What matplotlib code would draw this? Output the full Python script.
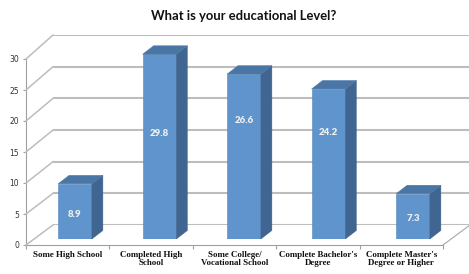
import matplotlib
matplotlib.use("Agg")
import matplotlib.pyplot as plt
from matplotlib.patches import Polygon
from matplotlib.lines import Line2D
from matplotlib.transforms import IdentityTransform
import numpy as np

# ------------------------------------------------------------
# datos
# ------------------------------------------------------------
categorias = ["Some High School", "Completed High\nSchool", "Some College/\nVocational School",
              "Complete Bachelor's\nDegree", "Complete Master's\nDegree or Higher"]
valores = [8.9, 29.8, 26.6, 24.2, 7.3]
ticks_y = [0, 5, 10, 15, 20, 25, 30]
titulo = "What is your educational Level?"

# colores estilo Excel 3D
c_frente = "#5F94CC"
c_lado = "#3F6590"
c_arriba = "#4A76A6"
c_grid = "#BDBDBD"

W, H = 469, 274
fig = plt.figure(figsize=(W / 100, H / 100), dpi=100)

def caja(x0, x1, y_top, y_bot):
    # rectangulo en pixeles (y desde arriba) -> fraccion de figura
    return [x0 / W, (H - y_bot) / H, (x1 - x0) / W, (y_bot - y_top) / H]

# pared del fondo
ax_fondo = fig.add_axes(caja(53, 470, 35, 225))
ax_fondo.set_xlim(0, 1); ax_fondo.set_ylim(0, 30)
ax_fondo.axis("off")
for t in ticks_y:
    ax_fondo.plot([0, 1], [t, t], color=c_grid, lw=1.5, solid_capstyle="butt")

# eje frontal (piso y escala)
ax = fig.add_axes(caja(26, 443, 59, 245))
ax.set_xlim(-0.5, 4.5); ax.set_ylim(0, 30)
ax.patch.set_alpha(0)
for s in ["top", "right"]:
    ax.spines[s].set_visible(False)
ax.spines["left"].set_color("#A0A0A0")
ax.spines["bottom"].set_color("#A0A0A0")
ax.spines["left"].set_linewidth(0.8)
ax.spines["bottom"].set_linewidth(0.8)
ax.set_yticks(ticks_y)
ax.set_yticklabels([str(t) for t in ticks_y], fontsize=5.5, color="#333333", family="DejaVu Sans")
ax.tick_params(axis="y", length=2, color="#A0A0A0", pad=3)
ax.set_xticks(np.arange(-0.5, 5, 1))
ax.set_xticklabels([])
ax.tick_params(axis="x", length=3, color="#A0A0A0")
for i, cat in enumerate(categorias):
    ax.text(i, -0.9, cat, ha="center", va="top", fontsize=6.4, fontweight="bold",
            family="Liberation Serif", color="#111111", linespacing=1.15)

# lineas diagonales de la pared izquierda y del piso
for t in ticks_y:
    p0 = ax.transData.transform((-0.5, t))
    p1 = ax_fondo.transData.transform((0, t))
    fig.add_artist(Line2D([p0[0], p1[0]], [p0[1], p1[1]], color=c_grid, lw=1.1,
                          transform=IdentityTransform()))
p0 = ax.transData.transform((4.5, 0))
p1 = ax_fondo.transData.transform((1, 0))
fig.add_artist(Line2D([p0[0], p1[0]], [p0[1], p1[1]], color="#A8A8A8", lw=0.8,
                      transform=IdentityTransform()))

# plano de las barras
ax_b = fig.add_axes(caja(32.75, 455.25, 53, 239))
ax_b.set_xlim(-0.5, 4.5); ax_b.set_ylim(0, 30)
ax_b.axis("off")
ancho = 0.40
prof = np.array([11.0, 8.5])  # profundidad en pixeles
x = np.arange(len(valores))
barras = ax_b.bar(x, valores, width=ancho, color=c_frente, zorder=3,
                  edgecolor="#5585B8", linewidth=0.4)
for xi, v in zip(x, valores):
    bl = ax_b.transData.transform((xi - ancho / 2, 0))
    br = ax_b.transData.transform((xi + ancho / 2, 0))
    tl = ax_b.transData.transform((xi - ancho / 2, v))
    tr = ax_b.transData.transform((xi + ancho / 2, v))
    lado = Polygon([br, tr, tr + prof, br + prof], closed=True, facecolor=c_lado,
                   edgecolor=c_lado, lw=0.3, transform=IdentityTransform(), zorder=2)
    arriba = Polygon([tl, tr, tr + prof, tl + prof], closed=True, facecolor=c_arriba,
                     edgecolor=c_arriba, lw=0.3, transform=IdentityTransform(), zorder=2)
    fig.add_artist(lado)
    fig.add_artist(arriba)

# etiquetas de valor (alturas)
alto_etiqueta = [0.44, 0.57, 0.72, 0.71, 0.46]
for xi, v, f in zip(x, valores, alto_etiqueta):
    ax_b.text(xi, v * f, f"{v}", ha="center", va="center", fontsize=7,
              fontweight="heavy", color="#EEEEEE", family="Lato", zorder=5)

fig.text(244 / W, 1 - 16 / H, titulo, ha="center", va="center", fontsize=9.4,
         fontweight="bold", family="Lato", color="#111111")

fig.savefig("out.png", dpi=100)
